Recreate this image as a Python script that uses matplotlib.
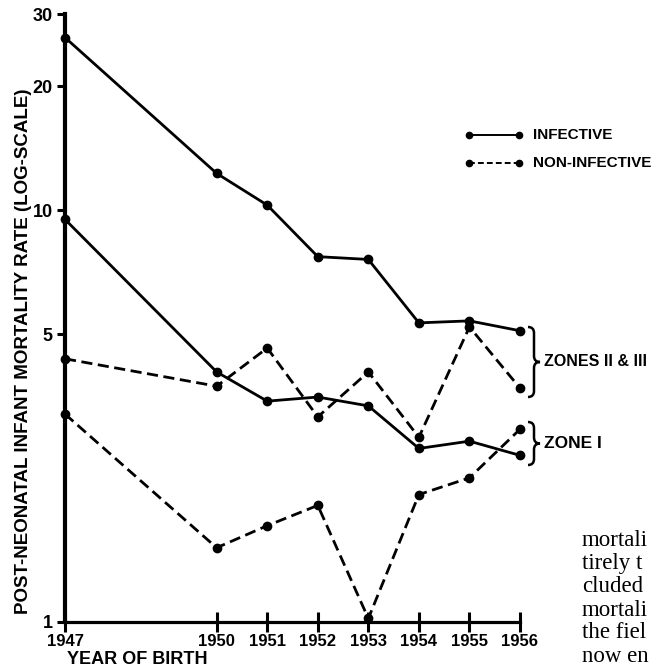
import matplotlib
matplotlib.use("Agg")
import matplotlib.pyplot as plt
from matplotlib.path import Path
from matplotlib.patches import PathPatch

years = [1947, 1950, 1951, 1952, 1953, 1954, 1955, 1956]
infective_z23 = [26.3, 12.3, 10.3, 7.72, 7.6, 5.33, 5.39, 5.10]
noninfective_z23 = [4.36, 3.74, 4.63, 3.15, 4.05, 2.81, 5.21, 3.70]
infective_z1 = [9.51, 4.05, 3.44, 3.52, 3.35, 2.64, 2.75, 2.54]
noninfective_z1 = [3.2, 1.515, 1.714, 1.92, 1.02, 2.04, 2.24, 2.94]
ytick_vals = [1, 5, 10, 20, 30]
body_lines = ["mortali", "tirely t", "cluded", "mortali", "the fiel", "now en"]

W, H = 657, 671
fig = plt.figure(figsize=(W / 100, H / 100), dpi=100)
fig.patch.set_facecolor("white")

def fx(px):
    return px / W

def fy(py):
    return 1 - py / H

SANS = ["Liberation Sans", "DejaVu Sans"]
bold = dict(family=SANS, fontweight="bold")

ax = fig.add_axes([fx(65), fy(622), fx(520) - fx(65), fy(14) - fy(622)])
ax.set_yscale("log")
ax.set_xlim(1947, 1956)
ax.set_ylim(1, 30)

lw = 2.0
ms = 6
ax.plot(years, infective_z23, color="black", lw=lw, marker="o", ms=ms, clip_on=False, zorder=3)
ax.plot(years, infective_z1, color="black", lw=lw, marker="o", ms=ms, clip_on=False, zorder=3)
ax.plot(years, noninfective_z23, color="black", lw=lw, marker="o", ms=ms,
        dashes=(4, 2), clip_on=False, zorder=3)
ax.plot(years, noninfective_z1, color="black", lw=lw, marker="o", ms=ms,
        dashes=(4, 2), clip_on=False, zorder=3)

for s in ["top", "right"]:
    ax.spines[s].set_visible(False)
ax.spines["left"].set_linewidth(3.0)
ax.spines["bottom"].set_linewidth(2.3)

ax.set_yticks(ytick_vals)
ax.set_yticklabels([str(v) for v in ytick_vals])
ax.yaxis.set_minor_locator(matplotlib.ticker.NullLocator())
ax.set_xticks(years)
ax.set_xticklabels([str(y) for y in years])
ax.tick_params(axis="y", direction="out", length=6, width=2.2, pad=3, labelsize=13)
ax.tick_params(axis="x", direction="inout", length=14, width=2.2, pad=2, labelsize=12)
for lab in ax.get_xticklabels() + ax.get_yticklabels():
    lab.set_family(SANS)
    lab.set_fontweight("bold")

fig.text(fx(24), fy(351), "POST-NEONATAL INFANT MORTALITY RATE (LOG-SCALE)",
         rotation=90, ha="center", va="center", fontsize=13.5, **bold)
fig.text(fx(67), fy(659), "YEAR OF BIRTH", ha="left", va="center", fontsize=13, **bold)

# legend
for yy, dash, label in [(135, None, "INFECTIVE"), (163, (3, 1.6), "NON-INFECTIVE")]:
    kw = dict(color="black", lw=1.4, marker="o", ms=4.5, transform=fig.transFigure)
    if dash:
        kw["dashes"] = dash
    fig.add_artist(plt.Line2D([fx(469), fx(519)], [fy(yy), fy(yy)], **kw))
    fig.text(fx(533), fy(yy), label, ha="left", va="center", fontsize=11, **bold)

def brace(x0, x1, ytop, ybot):
    ym = (ytop + ybot) / 2
    xm = (x0 + x1) / 2
    pts = [(x0, ytop), (xm, ytop), (xm, ytop + 6),
           (xm, ym - 6), (xm, ym), (x1, ym),
           (xm, ym), (xm, ym + 6),
           (xm, ybot - 6), (xm, ybot), (x0, ybot)]
    codes = [Path.MOVETO, Path.CURVE3, Path.CURVE3,
             Path.LINETO, Path.CURVE3, Path.CURVE3,
             Path.CURVE3, Path.CURVE3,
             Path.LINETO, Path.CURVE3, Path.CURVE3]
    p = PathPatch(Path([(fx(a), fy(b)) for a, b in pts], codes),
                  transform=fig.transFigure, fill=False, lw=1.8, edgecolor="black")
    fig.add_artist(p)

brace(528, 540, 327, 397)
brace(528, 540, 422, 465)
fig.text(fx(544), fy(362), "ZONES II & III", ha="left", va="center", fontsize=11.5, **bold)
fig.text(fx(544), fy(443), "ZONE I", ha="left", va="center", fontsize=12.5, **bold)

for i, t in enumerate(body_lines):
    fig.text(fx(582), fy(541 + 23 * i), t, ha="left", va="center", fontsize=16.5,
             family=["Liberation Serif", "DejaVu Serif"])

fig.savefig("out.png", dpi=100, facecolor="white")
